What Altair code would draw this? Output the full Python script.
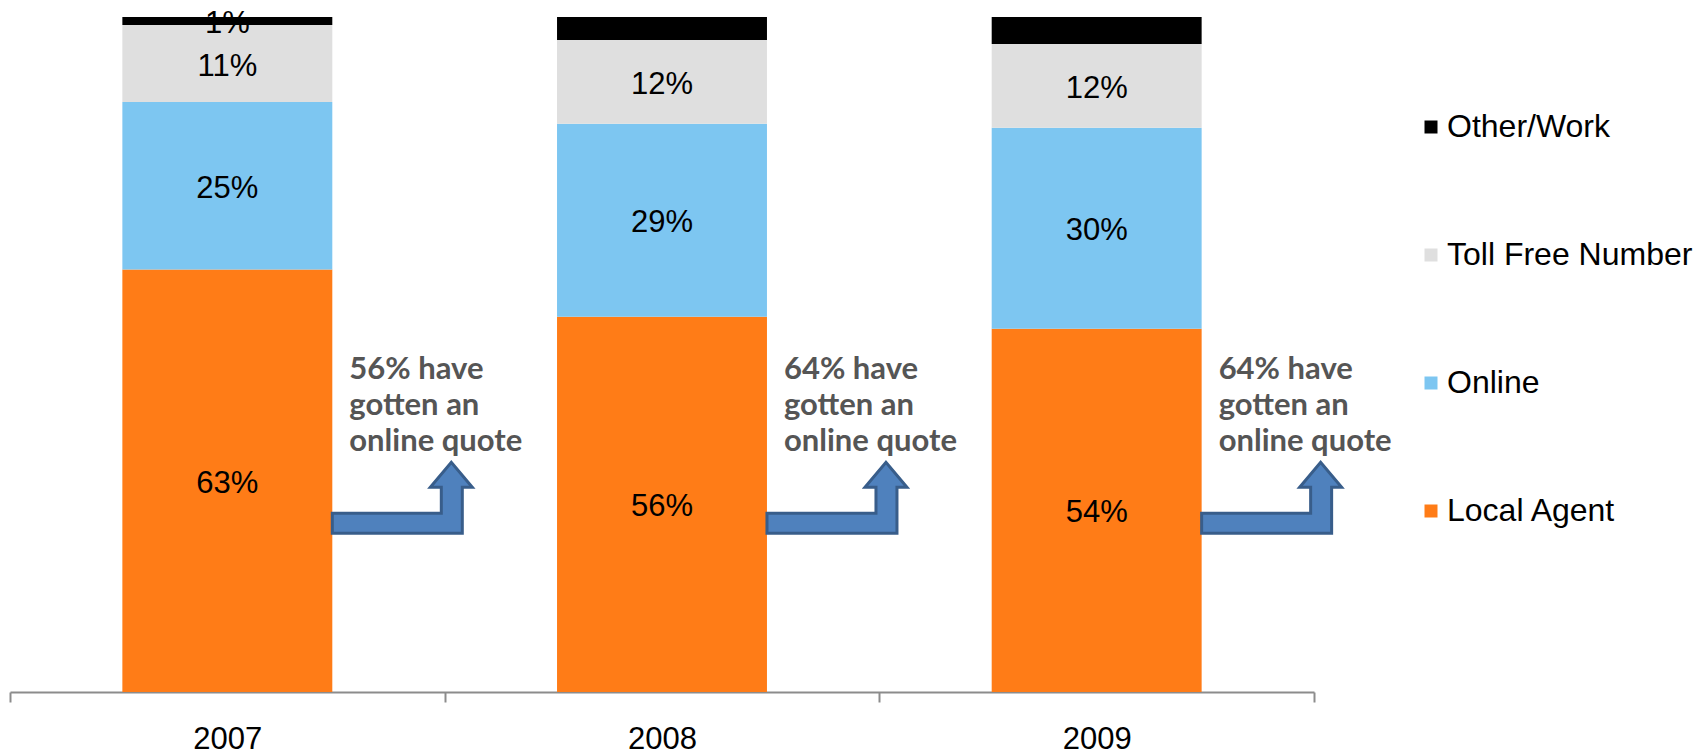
import altair as alt
import pandas as pd

years = ["2007", "2008", "2009"]
categories = ["Local Agent", "Online", "Toll Free Number", "Other/Work"]  # bottom -> top
local_agent = [62.6, 55.6, 53.8]
online = [24.8, 28.6, 29.8]
toll_free = [11.4, 12.4, 12.4]
other_work = [1.2, 3.4, 4.0]
online_quote_pct = [56, 64, 64]
arrow_level = [25, 25, 25]
note_level = [46.3, 46.3, 46.3]

legend_order = ["Other/Work", "Toll Free Number", "Online", "Local Agent"]
colors = ["#000000", "#DFDFDF", "#7DC6F1", "#FF7C17"]

series = {
    "Local Agent": local_agent,
    "Online": online,
    "Toll Free Number": toll_free,
    "Other/Work": other_work,
}
rows = []
for rank, cat in enumerate(categories):
    for y, v in zip(years, series[cat]):
        rows.append({"year": y, "category": cat, "rank": rank, "value": v})
df = pd.DataFrame(rows)

notes = pd.DataFrame({
    "year": years,
    "note": [f"{p}% have\ngotten an\nonline quote" for p in online_quote_pct],
    "level": note_level,
    "arrow": arrow_level,
})

FONT = "Liberation Sans"
BAR_BAND = 0.483
BAR_EDGE = 0.5 + BAR_BAND / 2

x_scale = alt.Scale(paddingInner=0, paddingOuter=0)

x_enc = alt.X(
    "year:N",
    sort=years,
    scale=x_scale,
    axis=alt.Axis(
        title=None,
        tickBand="extent",
        domainColor="#8C8C8C",
        domainWidth=2,
        tickColor="#8C8C8C",
        tickWidth=2,
        tickSize=10,
        labelFont=FONT,
        labelFontSize=31,
        labelColor="#000000",
        labelPadding=22,
        labelAngle=0,
        grid=False,
    ),
)

y_scale = alt.Scale(domain=[0, 100], nice=False, zero=True)

base = alt.Chart(df).transform_stack(
    stack="value",
    as_=["v0", "v1"],
    groupby=["year"],
    sort=[alt.SortField("rank", order="ascending")],
).transform_calculate(
    mid="(datum.v0 + datum.v1) / 2",
    label="round(datum.value) + '%'",
)

bars = base.mark_bar(width=alt.RelativeBandSize(band=BAR_BAND)).encode(
    x=x_enc,
    y=alt.Y("v0:Q", scale=y_scale, axis=None),
    y2="v1:Q",
    color=alt.Color(
        "category:N",
        scale=alt.Scale(domain=legend_order, range=colors),
        legend=alt.Legend(
            title=None,
            orient="none",
            legendX=1405,
            legendY=94,
            padding=0,
            symbolType="square",
            symbolSize=169,
            symbolStrokeWidth=0,
            labelFont=FONT,
            labelFontSize=32,
            labelColor="#000000",
            labelOffset=0,
            rowPadding=96,
            labelLimit=400,
        ),
    ),
)

labels = base.mark_text(font=FONT, fontSize=31, color="#000000", baseline="middle", align="center", dy=3).encode(
    x=alt.X("year:N", sort=years, bandPosition=0.5),
    y=alt.Y("mid:Q", scale=y_scale, axis=None),
    text="label:N",
)

note_text = alt.Chart(notes).mark_text(
    font="Lato", fontWeight="bold", fontSize=31, color="#555555",
    align="left", baseline="alphabetic", lineBreak="\n", lineHeight=36, dx=17,
).encode(
    x=alt.X("year:N", sort=years, bandPosition=BAR_EDGE),
    y=alt.Y("level:Q", scale=y_scale, axis=None),
    text="note:N",
)

arrow_path = "M0,-1 L10.9,-1 L10.9,-3.6 L9.8,-3.6 L11.9,-6.1 L14,-3.6 L13,-3.6 L13,1 L0,1 Z"
arrows = alt.Chart(notes).mark_point(
    shape=arrow_path, size=400, filled=True, fill="#4F81BD", stroke="#385D8A",
    strokeWidth=3, opacity=1, fillOpacity=1, strokeOpacity=1,
).encode(
    x=alt.X("year:N", sort=years, bandPosition=BAR_EDGE),
    y=alt.Y("arrow:Q", scale=y_scale, axis=None),
)

chart = alt.layer(bars, labels, note_text, arrows).properties(
    width=1304,
    height=675,
    autosize=alt.AutoSizeParams(type="none"),
    padding={"left": 10, "top": 17, "right": 389, "bottom": 63},
    background="#FFFFFF",
).configure_view(stroke=None)

chart.save("out.html", embed_options={"renderer": "svg", "actions": False})
